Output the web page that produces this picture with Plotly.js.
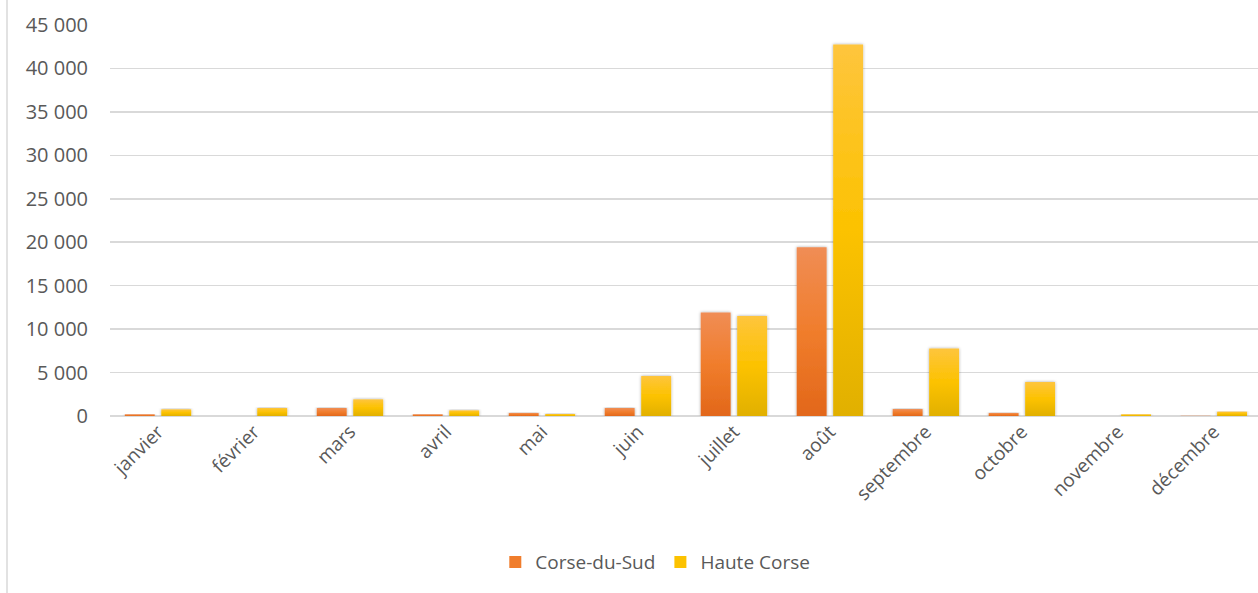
<!DOCTYPE html>
<html>
<head>
<meta charset="utf-8">
<script src="https://cdn.plot.ly/plotly-3.0.1.min.js"></script>
<style>
html,body{margin:0;padding:0;background:#fff;}
#chart{width:1258px;height:593px;}
</style>
</head>
<body>
<div id="chart"></div>
<script>
const months = ["janvier","février","mars","avril","mai","juin","juillet","août","septembre","octobre","novembre","décembre"];
const corseDuSud = [200, 0, 920, 200, 350, 920, 11920, 19430, 800, 350, 0, 30];
const hauteCorse = [770, 920, 1920, 650, 230, 4600, 11500, 42760, 7780, 3900, 200, 500];
const seriesNames = ["Corse-du-Sud", "Haute Corse"];
const yTicks = [0, 5000, 10000, 15000, 20000, 25000, 30000, 35000, 40000, 45000];
const gradients = [
  ["#f08d55", "#f07d2c", "#e2671a"],
  ["#fec53d", "#fcc200", "#e1b000"]
];

const font = "Open Sans, Liberation Sans, sans-serif";
const traces = [
  {type:"bar", name:seriesNames[0], x:months, y:corseDuSud,
   marker:{color:gradients[0][1]}, hoverinfo:"x+y"},
  {type:"bar", name:seriesNames[1], x:months, y:hauteCorse,
   marker:{color:gradients[1][1]}, hoverinfo:"x+y"}
];
const layout = {
  width:1258, height:593,
  margin:{l:110, r:0, t:25, b:177},
  paper_bgcolor:"#fff", plot_bgcolor:"#fff",
  separators:", ",
  barmode:"group", bargap:0.24, bargroupgap:0.18,
  font:{family:font, color:"#595959", size:19},
  xaxis:{type:"category", range:[-0.5, 11.46], tickangle:-45, showgrid:false, zeroline:false,
         showline:false, ticks:"", tickfont:{size:19, color:"#595959"}},
  yaxis:{range:[0,45000], tickvals:yTicks, tickformat:",d",
         showgrid:true, gridcolor:"#d9d9d9", gridwidth:1.5,
         zeroline:true, zerolinecolor:"#d9d9d9", zerolinewidth:1.5,
         showline:false, ticks:"", ticklabelstandoff:21,
         tickfont:{size:20, color:"#595959"}},
  legend:{orientation:"h", x:0.475, xanchor:"center", y:-0.325, yanchor:"top",
          font:{size:19, color:"#595959"}, itemwidth:30, traceorder:"normal"},
  showlegend:true,
  shapes:[{type:"line", xref:"paper", yref:"paper",
           x0:-103/1148, x1:-103/1148, y0:-177/391, y1:1+25/391,
           line:{color:"#d9d9d9", width:1.5}}]
};
Plotly.newPlot("chart", traces, layout, {displayModeBar:false, staticPlot:true}).then(function(gd){
  const NS = "http://www.w3.org/2000/svg";
  const svg = gd.querySelector(".main-svg");
  let defs = svg.querySelector("defs");
  if(!defs){ defs = document.createElementNS(NS, "defs"); svg.insertBefore(defs, svg.firstChild); }
  const filt = document.createElementNS(NS, "filter");
  filt.setAttribute("id", "barShadow");
  filt.setAttribute("x", "-30%"); filt.setAttribute("y", "-10%");
  filt.setAttribute("width", "160%"); filt.setAttribute("height", "120%");
  const ds = document.createElementNS(NS, "feDropShadow");
  ds.setAttribute("dx", "0"); ds.setAttribute("dy", "0");
  ds.setAttribute("stdDeviation", "1.8");
  ds.setAttribute("flood-color", "#000"); ds.setAttribute("flood-opacity", "0.35");
  filt.appendChild(ds); defs.appendChild(filt);
  gradients.forEach(function(g, i){
    const lg = document.createElementNS(NS, "linearGradient");
    lg.setAttribute("id", "barGrad" + i);
    lg.setAttribute("x1", "0"); lg.setAttribute("y1", "0");
    lg.setAttribute("x2", "0"); lg.setAttribute("y2", "1");
    [[0, g[0]], [0.5, g[1]], [1, g[2]]].forEach(function(s){
      const st = document.createElementNS(NS, "stop");
      st.setAttribute("offset", s[0]); st.setAttribute("stop-color", s[1]);
      lg.appendChild(st);
    });
    defs.appendChild(lg);
  });
  gd.querySelectorAll(".barlayer .trace.bars").forEach(function(tr, i){
    tr.querySelectorAll("path").forEach(function(p){
      p.style.fill = "url(#barGrad" + i + ")";
      p.setAttribute("filter", "url(#barShadow)");
    });
  });
});
</script>
</body>
</html>
